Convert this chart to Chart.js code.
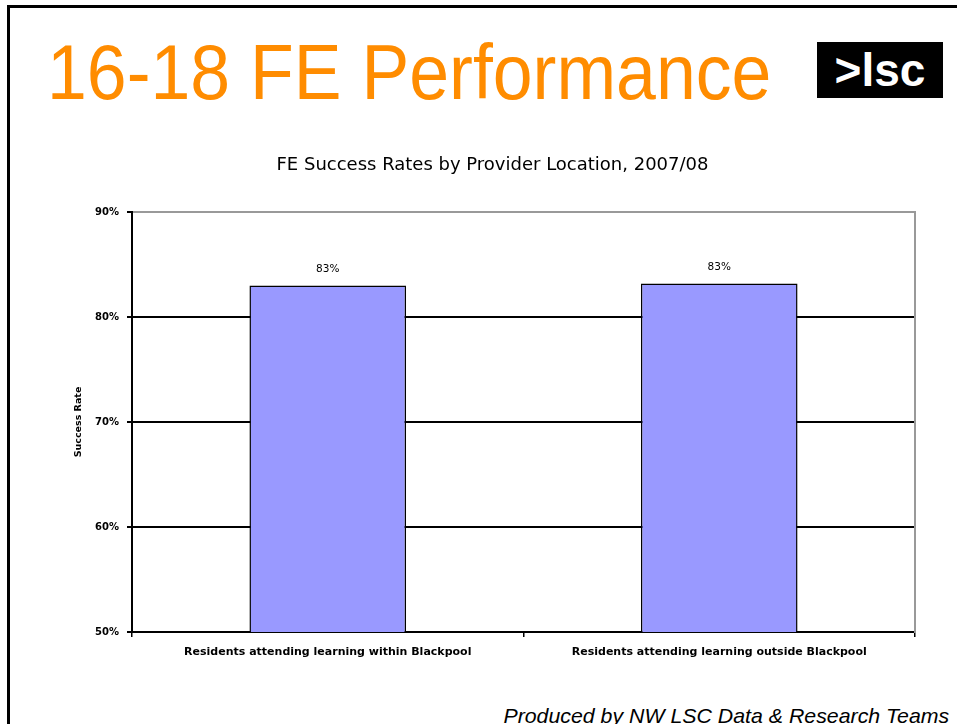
<!DOCTYPE html>
<html>
<head>
<meta charset="utf-8">
<script src="https://cdn.jsdelivr.net/npm/chart.js@4"></script>
<style>
  body { margin: 0; width: 957px; height: 724px; overflow: hidden; background: #fff; position: relative; font-family: 'Liberation Sans', Arial, sans-serif; }
  .frame { position: absolute; left: 7px; top: 5px; width: 960px; height: 730px; border-left: 3px solid #000; border-top: 3px solid #000; }
  .heading { position: absolute; left: 47px; top: 34px; font-size: 77px; line-height: 1; color: #ff8c00; white-space: nowrap; transform: scaleX(0.93); transform-origin: left top; }
  .logo { position: absolute; left: 817px; top: 42px; width: 126px; height: 56px; background: #000; color: #fff; font-weight: bold; font-size: 46px; line-height: 56px; text-align: center; }
  .footer { position: absolute; right: 8px; top: 705px; font-size: 21px; line-height: 1; font-style: italic; white-space: nowrap; transform: scaleX(1.015); transform-origin: right top; }
  canvas { position: absolute; left: 0; top: 0; }
</style>
</head>
<body>
<div class="frame"></div>
<div class="heading">16-18 FE Performance</div>
<div class="logo">&gt;lsc</div>
<div class="footer">Produced by NW LSC Data &amp; Research Teams</div>
<canvas id="chart" width="957" height="724"></canvas>
<script>
// Data.
const chartTitle = 'FE Success Rates by Provider Location, 2007/08';
const categories = [
  'Residents attending learning within Blackpool',
  'Residents attending learning outside Blackpool',
];
const successRates = [83.0, 83.2];
const rateLabels = ['83%', '83%'];
const yTicks = [50, 60, 70, 80, 90];

const chartFont = '"DejaVu Sans", Verdana, sans-serif';

// Writes the value labels above each bar.
const barLabels = {
  id: 'barLabels',
  afterDatasetsDraw(chart) {
    const ctx = chart.ctx;
    const meta = chart.getDatasetMeta(0);
    ctx.save();
    ctx.font = '10.5px ' + chartFont;
    ctx.fillStyle = '#000';
    ctx.textAlign = 'center';
    ctx.textBaseline = 'middle';
    meta.data.forEach((bar, i) => {
      ctx.fillText(rateLabels[i], bar.x, bar.y - 16);
    });
    ctx.restore();
  },
};

const ctx = document.getElementById('chart').getContext('2d');
new Chart(ctx, {
  type: 'bar',
  data: {
    labels: categories,
    datasets: [{
      data: successRates,
      backgroundColor: '#9999ff',
      borderColor: '#000',
      borderWidth: 1.5,
      categoryPercentage: 0.4,
      barPercentage: 1,
      yAxisID: 'y',
    }],
  },
  options: {
    responsive: false,
    animation: false,
    layout: {padding: {left: 70, right: 42, top: 155, bottom: 62}},
    plugins: {
      legend: {display: false},
      tooltip: {enabled: false},
      title: {
        display: true,
        text: chartTitle,
        color: '#000',
        font: {family: chartFont, size: 18, weight: 'normal'},
        padding: {top: 0, bottom: 35.4},
      },
    },
    scales: {
      x: {
        afterFit: (scale) => { scale.height = 30; },
        grid: {display: true, drawOnChartArea: false, offset: true, tickLength: 5, color: '#000', lineWidth: 1.5},
        border: {color: '#000', width: 2},
        ticks: {
          color: '#000',
          padding: 9,
          maxRotation: 0,
          autoSkip: false,
          font: {family: chartFont, size: 11, weight: 'bold'},
        },
      },
      y: {
        min: yTicks[0],
        max: yTicks[yTicks.length - 1],
        afterFit: (scale) => { scale.width = 62; },
        afterBuildTicks: (scale) => { scale.ticks = yTicks.map(v => ({value: v})); },
        grid: {
          color: (c) => (c.tick && c.tick.value === 90 ? '#999' : '#000'),
          lineWidth: 2,
          tickLength: 5,
          tickColor: '#000',
        },
        border: {color: '#000', width: 2},
        ticks: {
          color: '#000',
          padding: 8,
          font: {family: chartFont, size: 10, weight: 'bold'},
          callback: (v) => v + '%',
        },
        title: {
          display: true,
          text: 'Success Rate',
          color: '#000',
          padding: {top: 3, bottom: 0},
          font: {family: chartFont, size: 9.5, weight: 'bold'},
        },
      },
      yRight: {
        position: 'right',
        min: yTicks[0],
        max: yTicks[yTicks.length - 1],
        afterFit: (scale) => { scale.width = 0; },
        grid: {drawOnChartArea: false, drawTicks: false},
        border: {color: '#999', width: 2},
        ticks: {display: false},
      },
    },
  },
  plugins: [barLabels],
});
</script>
</body>
</html>
